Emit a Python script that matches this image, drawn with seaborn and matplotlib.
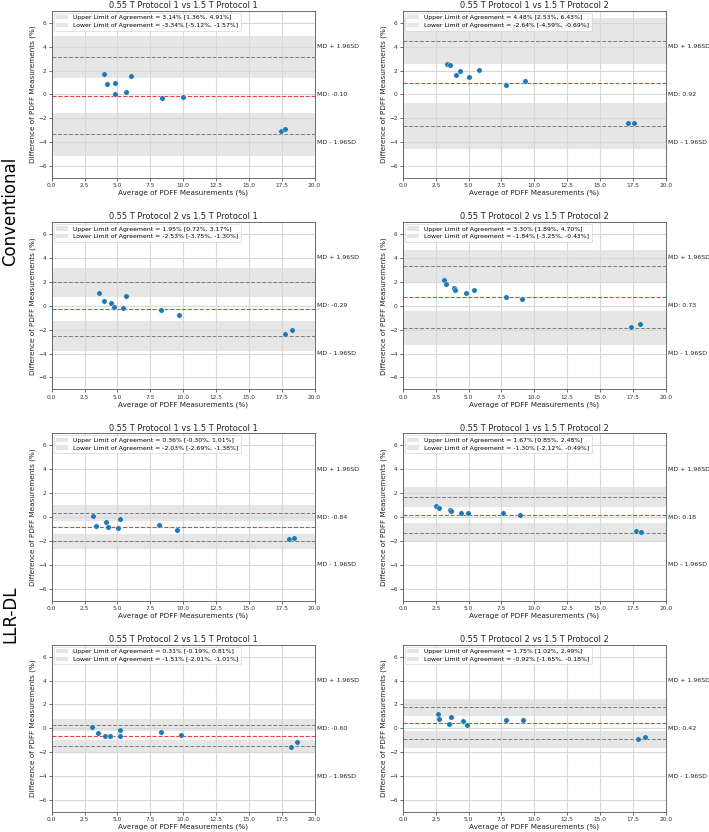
import numpy as np
import pandas as pd
import matplotlib
matplotlib.use("Agg")
import matplotlib.pyplot as plt
import seaborn as sns

# %%
titles = ["0.55 T Protocol 1 vs 1.5 T Protocol 1",
          "0.55 T Protocol 1 vs 1.5 T Protocol 2",
          "0.55 T Protocol 2 vs 1.5 T Protocol 1",
          "0.55 T Protocol 2 vs 1.5 T Protocol 2"]
row_labels = ["Conventional", "LLR-DL"]

# conventional reconstruction
conv_11_avg = [3.97, 4.20, 4.81, 4.81, 6.03, 5.62, 8.38, 9.95, 17.42, 17.77]
conv_11_diff = [1.75, 0.85, 0.96, 0.07, 1.55, 0.21, -0.29, -0.24, -3.03, -2.90]
conv_12_avg = [3.35, 3.61, 4.02, 4.32, 5.01, 5.77, 7.83, 9.30, 17.10, 17.59]
conv_12_diff = [2.56, 2.45, 1.61, 1.97, 1.44, 2.03, 0.77, 1.10, -2.36, -2.39]
conv_21_avg = [3.59, 3.97, 4.48, 4.71, 5.45, 5.67, 8.35, 9.72, 17.74, 18.30]
conv_21_diff = [1.07, 0.42, 0.25, -0.14, -0.17, 0.81, -0.34, -0.76, -2.40, -2.00]
conv_22_avg = [3.13, 3.28, 3.91, 3.99, 4.83, 5.44, 7.83, 9.05, 17.38, 18.02]
conv_22_diff = [2.14, 1.80, 1.46, 1.30, 1.07, 1.32, 0.76, 0.59, -1.75, -1.52]

# LLR-DL reconstruction
dl_11_avg = [3.13, 3.38, 4.10, 4.30, 5.06, 5.17, 8.14, 9.54, 18.07, 18.40]
dl_11_diff = [0.11, -0.75, -0.42, -0.87, -0.89, -0.14, -0.70, -1.06, -1.82, -1.73]
dl_12_avg = [2.52, 2.77, 3.56, 3.63, 4.45, 4.93, 7.65, 8.89, 17.71, 18.12]
dl_12_diff = [0.90, 0.76, 0.62, 0.50, 0.31, 0.31, 0.31, 0.20, -1.18, -1.29]
dl_21_avg = [3.10, 3.54, 4.02, 4.45, 5.17, 5.19, 8.35, 9.80, 18.19, 18.68]
dl_21_diff = [0.11, -0.42, -0.64, -0.62, -0.17, -0.62, -0.28, -0.53, -1.54, -1.15]
dl_22_avg = [2.69, 2.77, 3.51, 3.68, 4.60, 4.90, 7.83, 9.15, 17.86, 18.42]
dl_22_diff = [1.23, 0.78, 0.34, 0.92, 0.59, 0.28, 0.73, 0.73, -0.87, -0.70]

avgs = [conv_11_avg, conv_12_avg, conv_21_avg, conv_22_avg,
        dl_11_avg, dl_12_avg, dl_21_avg, dl_22_avg]
diffs = [conv_11_diff, conv_12_diff, conv_21_diff, conv_22_diff,
         dl_11_diff, dl_12_diff, dl_21_diff, dl_22_diff]

mean_diff = [-0.10, 0.92, -0.29, 0.73, -0.84, 0.18, -0.60, 0.42]
upper_loa = [3.14, 4.48, 1.95, 3.30, 0.36, 1.67, 0.31, 1.75]
upper_ci_lo = [1.36, 2.53, 0.72, 1.89, -0.30, 0.85, -0.19, 1.02]
upper_ci_hi = [4.91, 6.43, 3.17, 4.70, 1.01, 2.48, 0.81, 2.49]
lower_loa = [-3.34, -2.64, -2.53, -1.84, -2.03, -1.30, -1.51, -0.92]
lower_ci_lo = [-5.12, -4.59, -3.75, -3.25, -2.69, -2.12, -2.01, -1.65]
lower_ci_hi = [-1.57, -0.69, -1.30, -0.43, -1.38, -0.49, -1.01, -0.18]

# %%
fig, axs = plt.subplots(nrows=4, ncols=2, figsize=(14.18, 16.64), dpi=50)
plt.subplots_adjust(left=0.073, right=0.939, top=0.987, bottom=0.024,
                    wspace=0.336, hspace=0.263)

for index in range(8):
    ax = axs[index // 2, index % 2]
    df = pd.DataFrame({'avg': avgs[index], 'diff': diffs[index]})

    ax.axhspan(upper_ci_lo[index], upper_ci_hi[index], color='#e6e6e6', lw=0, zorder=0,
               label=f"Upper Limit of Agreement = {upper_loa[index]:.2f}% "
                     f"[{upper_ci_lo[index]:.2f}%, {upper_ci_hi[index]:.2f}%]")
    ax.axhspan(lower_ci_lo[index], lower_ci_hi[index], color='#e6e6e6', lw=0, zorder=0,
               label=f"Lower Limit of Agreement = {lower_loa[index]:.2f}% "
                     f"[{lower_ci_lo[index]:.2f}%, {lower_ci_hi[index]:.2f}%]")
    ax.axhline(upper_loa[index], color='gray', linestyle='--', lw=1.5, zorder=2)
    ax.axhline(lower_loa[index], color='gray', linestyle='--', lw=1.5, zorder=2)
    ax.axhline(mean_diff[index], color='#e8403c', linestyle='--', lw=1.6, zorder=2)

    sns.scatterplot(data=df, x='avg', y='diff', ax=ax, color='#1f77b4', s=60,
                    edgecolor='white', linewidth=0.5, zorder=3)

    ax.set_xlim(0, 20)
    ax.set_ylim(-7, 7)
    ax.set_xticks(np.arange(0, 20.1, 2.5))
    ax.set_yticks(np.arange(-6, 6.1, 2))
    ax.grid(True, color='#d8d8d8', lw=1.6, zorder=1)
    ax.tick_params(labelsize=8.4, colors='#333333', width=1.0, length=4)
    for sp in ax.spines.values():
        sp.set_color('#555555')
        sp.set_linewidth(1.2)

    ax.set_title(titles[index % 4], fontsize=11.8, pad=4, color='#222222')
    ax.set_xlabel('Average of PDFF Measurements (%)', fontsize=10.4, labelpad=2,
                  color='#222222')
    ax.set_ylabel('Difference of PDFF Measurements (%)', fontsize=10.4, labelpad=3,
                  color='#222222')

    ax.text(1.01, 4, 'MD + 1.96SD', transform=ax.get_yaxis_transform(),
            va='center', ha='left', fontsize=9, color='#222222')
    ax.text(1.01, 0, f"MD: {mean_diff[index]:.2f}", transform=ax.get_yaxis_transform(),
            va='center', ha='left', fontsize=9, color='#222222')
    ax.text(1.01, -4, 'MD - 1.96SD', transform=ax.get_yaxis_transform(),
            va='center', ha='left', fontsize=9, color='#222222')

    ax.legend(loc='upper left', fontsize=8.8, borderaxespad=0.3, framealpha=0.8,
              handlelength=2.0, borderpad=0.4, labelspacing=0.4)

fig.text(0.014, 0.746, row_labels[0], rotation=90, va='center', ha='center', fontsize=24)
fig.text(0.014, 0.262, row_labels[1], rotation=90, va='center', ha='center', fontsize=24)

plt.savefig('out.png', dpi=50)
plt.close()
